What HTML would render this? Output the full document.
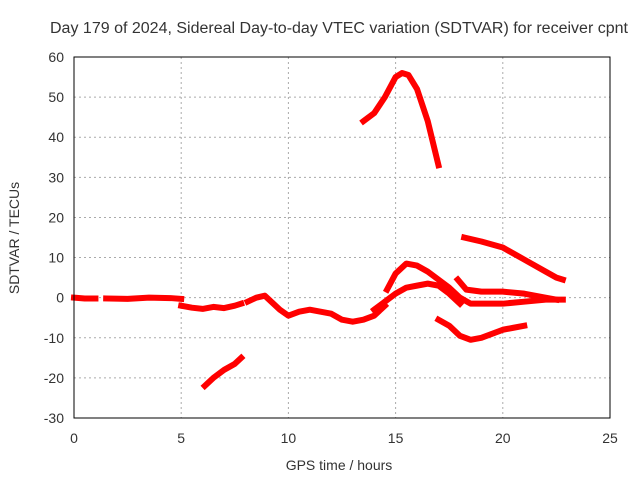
<!DOCTYPE html>
<html><head><meta charset="utf-8"><style>
body{margin:0;background:#fff}
text{font-family:"Liberation Sans",sans-serif;font-size:14px;fill:#333}
</style></head><body>
<svg id="chart" width="640" height="480" xmlns="http://www.w3.org/2000/svg">
<rect width="640" height="480" fill="#fff"/>
<text x="339" y="33" text-anchor="middle" textLength="578" lengthAdjust="spacingAndGlyphs" style="font-size:15.5px">Day 179 of 2024, Sidereal Day-to-day VTEC variation (SDTVAR) for receiver cpnt</text>
<g id="grid"></g>
<g id="ticks"></g>
<g id="series"></g>
<rect x="74" y="57" width="536" height="361" fill="none" stroke="#000"/>
<text x="339" y="470" text-anchor="middle">GPS time / hours</text>
<text transform="translate(19,238) rotate(-90)" text-anchor="middle">SDTVAR / TECUs</text>
</svg>
<script>
const xTicks=[0,5,10,15,20,25];
const yTicks=[-30,-20,-10,0,10,20,30,40,50,60];
const s1=[[0,0],[0.5,-0.2],[1,-0.2]];
const s2=[[1.5,-0.2],[2.5,-0.3],[3.5,0],[4.5,-0.1],[5,-0.3]];
const s3=[[5,-2],[5.5,-2.5],[6,-2.8],[6.5,-2.3],[7,-2.6],[7.5,-2],[7.8,-1.5]];
const s4=[[6.1,-22],[6.5,-20],[7,-18],[7.5,-16.5],[7.8,-15]];
const s5=[[8.1,-1],[8.5,0],[8.9,0.5],[9.2,-1],[9.6,-3],[10,-4.5],[10.5,-3.5],[11,-3],[11.5,-3.5],[12,-4],[12.5,-5.5],[13,-6],[13.5,-5.5],[14,-4.5],[14.5,-2]];
const s6=[[13.5,44],[14,46],[14.5,50],[15,55],[15.3,56],[15.6,55.5],[16,52],[16.5,44],[17,33]];
const s7=[[14.6,2],[15,6],[15.5,8.5],[16,8],[16.5,6.5],[17,4.5],[17.5,2.5],[18,0],[18.5,-1.5],[19,-1.5],[20,-1.5],[21,-1],[22,-0.5],[22.8,-0.5]];
const s8=[[14,-3],[14.5,-1],[15,1],[15.5,2.5],[16,3],[16.5,3.5],[17,3],[17.5,1],[18,-1.5]];
const s9=[[17.9,4.5],[18.3,2],[19,1.5],[20,1.5],[21,1],[22,0],[22.5,-0.5]];
const s10=[[17,-5.5],[17.5,-7],[18,-9.5],[18.5,-10.5],[19,-10],[20,-8],[20.5,-7.5],[21,-7]];
const s11=[[18.2,15],[19,14],[20,12.5],[21,9.5],[22,6.5],[22.5,5],[22.8,4.5]];
const allSeries=[s1,s2,s3,s4,s5,s6,s7,s8,s9,s10,s11];
const NS="http://www.w3.org/2000/svg";
const xs=v=>74+v*536/25, ys=v=>418-(v+30)*361/90;
const grid=document.getElementById('grid'),ticks=document.getElementById('ticks'),ser=document.getElementById('series');
function mk(t,a,p){const e=document.createElementNS(NS,t);for(const k in a)e.setAttribute(k,a[k]);p.appendChild(e);return e;}
xTicks.forEach(v=>{const x=xs(v);
 if(v>0&&v<25){const l=mk('line',{x1:x,x2:x,y1:57,y2:418,stroke:'#aaa','stroke-dasharray':'2,3'},grid);
 
 }
 const t=mk('text',{x:x,y:443,'text-anchor':'middle'},ticks);t.textContent=v;
 
 });
yTicks.forEach(v=>{const y=ys(v);
 if(v>-30&&v<60){const l=mk('line',{x1:74,x2:610,y1:y,y2:y,stroke:'#aaa','stroke-dasharray':'2,3'},grid);
 
 }
 const t=mk('text',{x:64,y:y+5,'text-anchor':'end'},ticks);t.textContent=v;
 
 });
allSeries.forEach((s,i)=>{
 const p=mk('polyline',{points:s.map(d=>xs(d[0])+','+ys(d[1])).join(' '),fill:'none',stroke:'#f00','stroke-width':6,'stroke-linejoin':'round','stroke-linecap':'square'},ser);
 
 
});
</script>
</body></html>
